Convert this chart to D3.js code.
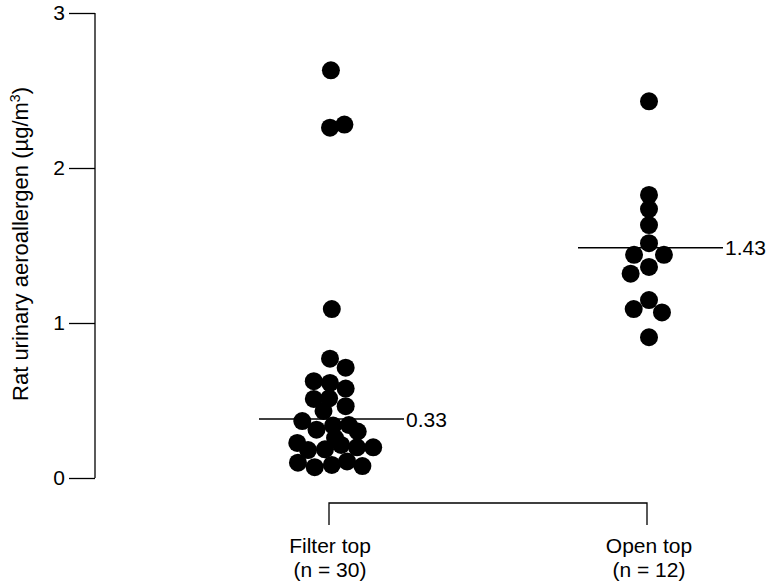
<!DOCTYPE html>
<html>
<head>
<meta charset="utf-8">
<script src="https://cdn.jsdelivr.net/npm/d3@7"></script>
<style>
  html, body { margin: 0; padding: 0; background: #fff; }
  svg { display: block; font-family: "Liberation Sans", Arial, Helvetica, sans-serif; }
</style>
</head>
<body>
<svg id="chart" width="774" height="585"></svg>
<script>
// ---- data ----
const categories = ["Filter top", "Open top"];
const categoryCounts = ["(n = 30)", "(n = 12)"];

// Filter top values (µg/m3) and horizontal jitter (in dot diameters)
const filterValues = [2.63, 2.26, 2.28, 1.09, 0.77, 0.712, 0.625, 0.613, 0.577, 0.51,
                      0.514, 0.463, 0.433, 0.367, 0.312, 0.338, 0.342, 0.30, 0.226, 0.18,
                      0.185, 0.258, 0.213, 0.198, 0.198, 0.099, 0.07, 0.084, 0.107, 0.077];
const filterJitter = [0.05, 0.0, 0.8, 0.1, 0.0, 0.87, -0.9, 0.0, 0.87, -0.9,
                      -0.05, 0.87, -0.36, -1.54, -0.75, 0.17, 1.05, 1.54, -1.82, -1.22,
                      -0.28, 0.28, 0.62, 1.5, 2.4, -1.78, -0.85, 0.1, 0.95, 1.8];

// Open top values and jitter
const openValues = [2.43, 1.826, 1.735, 1.632, 1.515, 1.44, 1.44, 1.362, 1.318,
                    1.148, 1.09, 1.068, 0.908];
const openJitter = [0, 0, 0, 0, 0, -0.83, 0.83, 0, -1.02, 0, -0.85, 0.72, 0];

// Median lines (plotted level) and their labels
const medianLevels = [0.38, 1.485];
const medianLabels = ["0.33", "1.43"];

const yTicks = [0, 1, 2, 3];
const yTitle = "Rat urinary aeroallergen (µg/m";

// ---- layout ----
const FS = 21;
const svg = d3.select("#chart");
const y = d3.scaleLinear().domain([0, 3]).range([478, 13]);
const x = d3.scalePoint().domain(categories).range([330, 649]);
const dotD = 18;
const jx = d3.scaleLinear().domain([0, 1]).range([0, dotD]);

// Y axis
const yAxis = d3.axisLeft(y).tickValues(yTicks).tickFormat(d3.format("d"))
  .tickSize(26).tickPadding(4);
const gy = svg.append("g").attr("transform", "translate(95,0)").call(yAxis);
gy.select(".domain").attr("d", `M0,${y(3)}V${y(0)}`).attr("stroke", "#000").attr("stroke-width", 1.3);
gy.selectAll(".tick line").attr("stroke", "#000").attr("stroke-width", 1.3);
gy.selectAll(".tick text").attr("font-size", FS).attr("fill", "#000")
  .attr("font-family", "Liberation Sans, Arial, sans-serif");

// Y title
const yt = svg.append("text")
  .attr("transform", `translate(28,${244}) rotate(-90)`)
  .attr("text-anchor", "middle")
  .attr("font-size", 22)
  .attr("fill", "#000");
yt.append("tspan").text(yTitle);
yt.append("tspan").attr("font-size", 14).attr("dy", -8).text("3");
yt.append("tspan").attr("dy", 8).text(")");

// Bottom bracket axis
const bx0 = x(categories[0]) - 1, bx1 = x(categories[1]) - 2;
svg.append("path")
  .attr("d", `M${bx0},525V503H${bx1}V525`)
  .attr("fill", "none").attr("stroke", "#000").attr("stroke-width", 1.3);

categories.forEach((c, i) => {
  svg.append("text").attr("x", x(c)).attr("y", 553).attr("text-anchor", "middle")
    .attr("font-size", FS).attr("fill", "#000").text(c);
  svg.append("text").attr("x", x(c)).attr("y", 577).attr("text-anchor", "middle")
    .attr("font-size", FS).attr("fill", "#000").text(categoryCounts[i]);
});

// Dots
const groups = [
  { cat: categories[0], values: filterValues, jitter: filterJitter },
  { cat: categories[1], values: openValues, jitter: openJitter }
];
groups.forEach(g => {
  svg.append("g").selectAll("circle")
    .data(g.values.map((v, i) => ({ v, j: g.jitter[i] })))
    .join("circle")
    .attr("cx", d => x(g.cat) + jx(d.j))
    .attr("cy", d => y(d.v))
    .attr("r", dotD / 2)
    .attr("fill", "#000");
});

// Median lines
categories.forEach((c, i) => {
  const yy = y(medianLevels[i]);
  svg.append("line")
    .attr("x1", x(c) - 71).attr("x2", x(c) + 74)
    .attr("y1", yy).attr("y2", yy)
    .attr("stroke", "#000").attr("stroke-width", 1.5);
  svg.append("text")
    .attr("x", x(c) + 76).attr("y", yy + 7.5)
    .attr("font-size", FS).attr("fill", "#000")
    .text(medianLabels[i]);
});
</script>
</body>
</html>
